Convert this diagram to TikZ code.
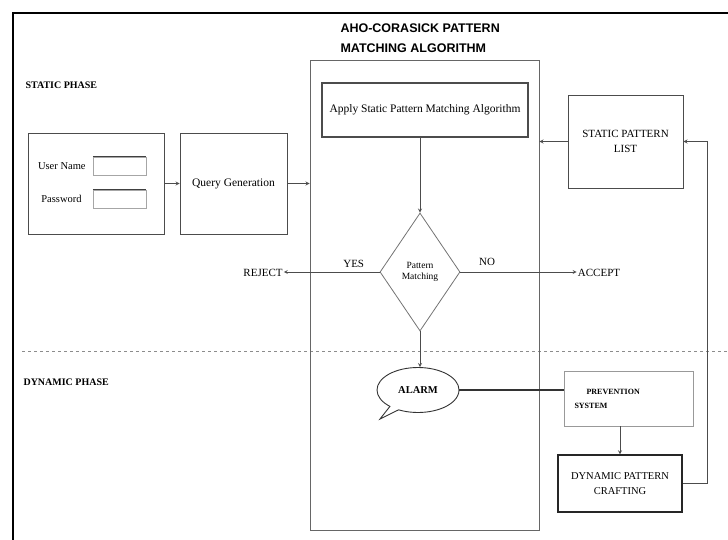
\documentclass[tikz,border=0pt]{standalone}
\usepackage{fontspec}
\setmainfont{Liberation Serif}
\newfontfamily\headfont{Liberation Sans}
\usepackage{tikz}
\usetikzlibrary{arrows,positioning,shapes.geometric,shapes.callouts}
\tikzstyle{process} = [rectangle, inner sep=1pt, text centered, draw=black!70, line width=0.8pt, font=\fontsize{11}{13}\selectfont]
\tikzstyle{field} = [rectangle, draw=black!35, minimum width=53pt, minimum height=18pt, inner sep=0pt]
\tikzstyle{decision} = [diamond, minimum width=80pt, minimum height=118pt, inner sep=0pt, text centered, draw=black!55, line width=0.8pt, font=\fontsize{9.5}{11}\selectfont]
\tikzstyle{phase} = [anchor=west, font=\bfseries\fontsize{10}{12}\selectfont]
\tikzstyle{tag} = [text=black, font=\fontsize{11}{13}\selectfont, inner sep=1pt]
\tikzstyle{arrow} = [->,>=stealth,black!70,line width=0.8pt]

\begin{document}
\begin{tikzpicture}[x=1pt,y=-1pt]
\useasboundingbox (0,0) rectangle (728,540);

% frame and phases
\draw[line width=1.8pt] (13,540) -- (13,13) -- (728,13);
\draw[dashed, black!45, line width=0.8pt] (22,351) -- (728,351);
\node (static) [phase] at (22,85) {STATIC PHASE};
\node (dynamic) [phase] at (20,382) {DYNAMIC PHASE};

\node (head) [anchor=west, align=left, font=\headfont\bfseries\fontsize{12.5}{20}\selectfont] at (337,38) {AHO-CORASICK PATTERN\\MATCHING ALGORITHM};
\node (aho) [rectangle, draw=black!60, line width=0.9pt, minimum width=229pt, minimum height=470pt, inner sep=0pt] at (424.5,295) {};

% login
\node (login) [process, minimum width=136pt, minimum height=101pt] at (96,183.5) {};
\node (user) [field] at (119.5,166) {};
\node (pass) [field] at (119.5,199) {};
\draw [black!75, line width=1.2pt] (user.north west) -- (user.north east);
\draw [black!75, line width=1.2pt] (pass.north west) -- (pass.north east);
\node (usertxt) [tag, font=\fontsize{10.5}{12}\selectfont, left=6pt of user] {User Name};
\node (passtxt) [tag, font=\fontsize{10.5}{12}\selectfont, left=10pt of pass] {Password};
\node (qg) [process, right of=login, node distance=137.5pt, minimum width=107pt, minimum height=101pt, font=\fontsize{11.5}{13}\selectfont] {Query Generation};
\draw [arrow] (login) -- (qg);
\draw [arrow] (qg.east) -- (qg.east -| aho.west);

% static matching
\node (apply) [process, minimum width=206pt, minimum height=54pt, line width=1.1pt, font=\fontsize{11.5}{13}\selectfont] at (425,110) {Apply Static Pattern Matching Algorithm};
\node (list) [process, minimum width=115pt, minimum height=93pt, font=\fontsize{11}{15}\selectfont, align=center] at (625.5,141.5) {STATIC PATTERN\\LIST};
\draw [arrow] (list.west) -- (list.west -| aho.east);

\node (match) [decision, align=center] at (420,272) {Pattern\\Matching};
\draw [arrow] (match.north |- apply.south) -- (match.north);
\node (reject) [tag] at (263,273) {REJECT};
\node (accept) [tag] at (599,273) {ACCEPT};
\draw [arrow] (match.west) -- node [tag, above, pos=0.27, yshift=3pt] {YES} (match.west -| reject.east);
\draw [arrow] (match.east) -- node [tag, above, pos=0.23, yshift=5pt] {NO} (match.east -| accept.west);

% dynamic part
\node (alarm) [ellipse callout, draw=black!80, line width=0.9pt, minimum width=82pt, minimum height=45pt, callout absolute pointer={(380,419)}, font=\bfseries\fontsize{10.5}{12}\selectfont] at (418,390) {ALARM};
\draw [arrow] (match.south) -- (match.south |- alarm.north);

\node (prev) [process, draw=black!40, minimum width=129pt, minimum height=55pt, text width=108pt, align=left, font=\bfseries\fontsize{8}{14}\selectfont] at (628.5,398.5) {\hspace*{12pt}PREVENTION\\SYSTEM\\[-4pt]};
\draw [black!80, line width=1.1pt] (alarm.east) -- (alarm.east -| prev.west);

\node (craft) [process, draw=black!85, line width=1.3pt, minimum width=124pt, minimum height=57pt, align=center, font=\fontsize{10.5}{15}\selectfont] at (620,483.5) {DYNAMIC PATTERN\\CRAFTING};
\draw [arrow] (craft.north |- prev.south) -- (craft.north);
\draw [arrow] (craft.east) -- ++(25,0) |- (list.east);

\end{tikzpicture}
\end{document}
